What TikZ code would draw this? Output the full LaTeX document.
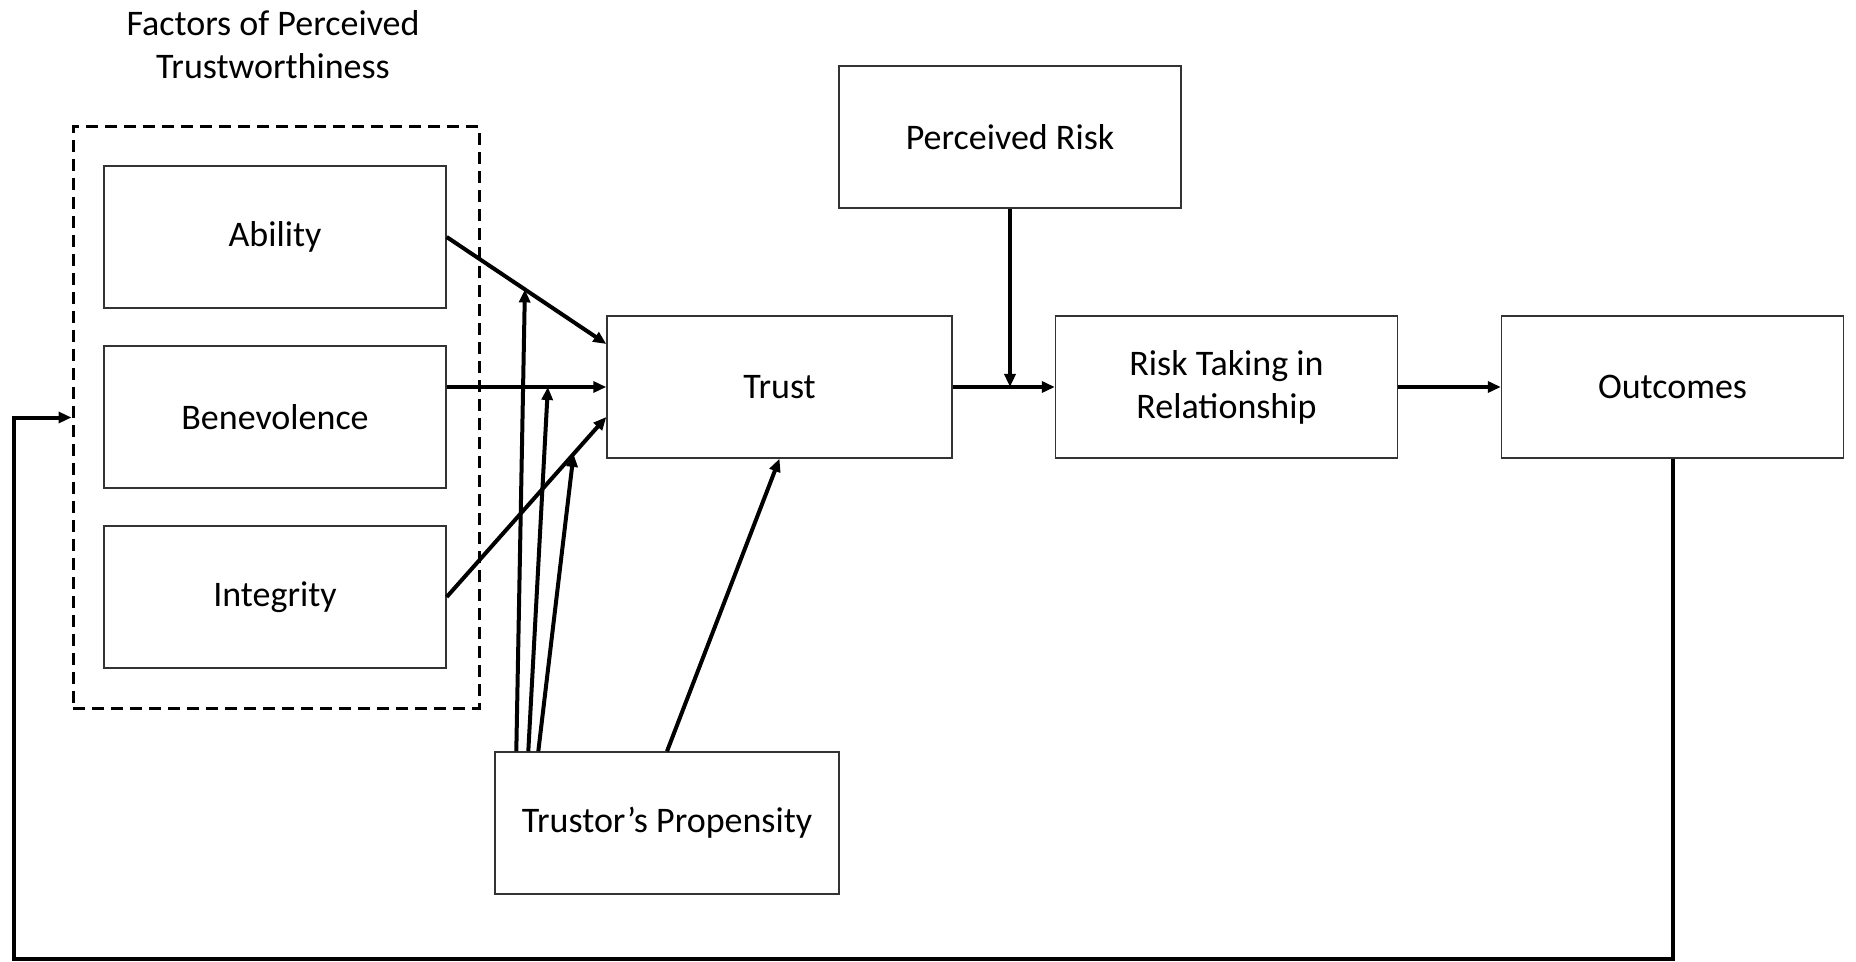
\documentclass[tikz,border=0pt]{standalone}
\usepackage{fontspec}
\setmainfont{Carlito}
\usetikzlibrary{arrows.meta,calc}
\begin{document}
\begin{tikzpicture}[x=0.5pt,y=-0.5pt,
  box/.style={draw=black!80,line width=0.7pt,minimum width=171pt,minimum height=71pt,
    inner sep=0pt,align=center,font=\fontsize{18}{21.5}\selectfont},
  group/.style={draw,line width=1.5pt,dash pattern=on 6pt off 3.5pt,
    minimum width=203pt,minimum height=290.5pt,inner sep=0pt},
  link/.style={line width=2pt,-{Triangle[length=6.5pt,width=5.5pt]}},
  title/.style={align=center,font=\fontsize{18}{21.5}\selectfont}]
\useasboundingbox (0,0) rectangle (1856,962);

% factor boxes and their dashed frame
\node[group] (factors) at (276,417.5) {};
\node[title] (ftitle) at (273,45) {Factors of Perceived\\Trustworthiness};
\node[box] (ability) at (275,237) {Ability};
\node[box] (benev) at (275,417) {Benevolence};
\node[box] (integ) at (275,597) {Integrity};

% main chain
\node[box,minimum width=172.5pt] (trust) at (779.5,387) {Trust};
\node[box] (prisk) at (1010,137) {Perceived Risk};
\node[box] (rtake) at (1226.5,387) {Risk Taking in\\Relationship};
\node[box] (out) at (1672.5,387) {Outcomes};
\node[box,minimum width=172pt] (prop) at (667,823) {Trustor’s Propensity};

% factors to trust
\draw[link] (ability.east) -- coordinate[pos=0.49] (m1) ($(trust.west)+(0,-43)$);
\draw[link] ($(benev.east)+(0,-30)$) -- coordinate[pos=0.634] (m2) (trust.west);
\draw[link] (integ.east) -- coordinate[pos=0.795] (m3) ($(trust.west)+(0,30)$);

% propensity moderating the factor links
\draw[link] ($(prop.north west)+(22,0)$) -- (m1);
\draw[link] ($(prop.north west)+(34,0)$) -- (m2);
\draw[link] ($(prop.north west)+(44,0)$) -- (m3);
\draw[link] (prop.north) -- (trust.south);

% trust to risk taking, moderated by perceived risk
\draw[link] (trust.east) -- (rtake.west);
\draw[link] (prisk.south) -- (prisk.south |- trust.east);
\draw[link] (rtake.east) -- (out.west);

% feedback loop
\coordinate (fbl) at (14,959);
\draw[link] (out.south) |- (fbl) |- (factors.west);
\end{tikzpicture}
\end{document}
